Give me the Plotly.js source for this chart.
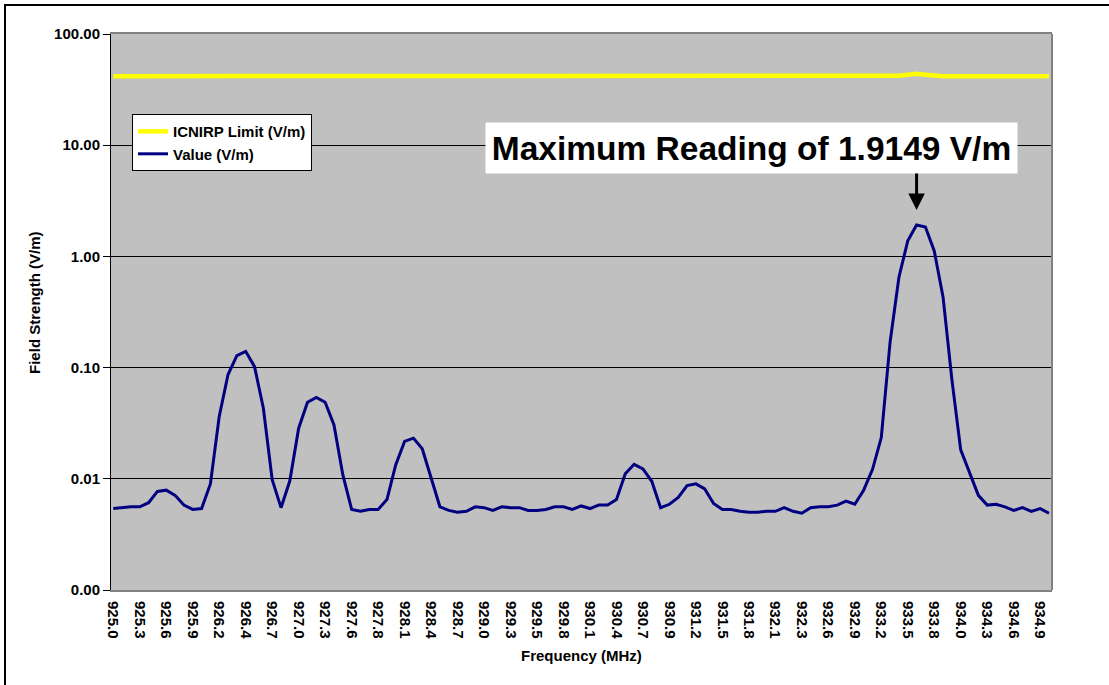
<!DOCTYPE html>
<html>
<head>
<meta charset="utf-8">
<script src="https://cdn.plot.ly/plotly-3.0.1.min.js"></script>
<style>
  html, body { margin: 0; padding: 0; background: #ffffff; }
  #chart { width: 1109px; height: 685px; }
  #frame { position: absolute; left: 4px; top: 4px; width: 1120px; height: 700px;
           border-left: 2.5px solid #000; border-top: 2.5px solid #000; pointer-events: none; box-sizing: border-box; }
</style>
</head>
<body>
<div id="chart"></div>
<div id="frame"></div>
<script>
// Tick labels shown every third measurement point
const tickLabels = ["925.0","925.3","925.6","925.9","926.2","926.4","926.7","927.0","927.3","927.6",
  "927.8","928.1","928.4","928.7","929.0","929.3","929.5","929.8","930.1","930.4",
  "930.7","930.9","931.2","931.5","931.8","932.1","932.3","932.6","932.9","933.2",
  "933.5","933.8","934.0","934.3","934.6","934.9"];

// Measured field strength (V/m), 107 points
const valueVm = [
  0.0054, 0.0055, 0.0056, 0.0056, 0.0061, 0.0077, 0.0079, 0.0071, 0.0058, 0.0053,
  0.0054, 0.0090, 0.0363, 0.0867, 0.128, 0.140, 0.102, 0.0431, 0.0098, 0.0055,
  0.0096, 0.0285, 0.0488, 0.0540, 0.0488, 0.0305, 0.0109, 0.0053, 0.0051, 0.0053,
  0.0053, 0.0065, 0.0134, 0.0217, 0.0232, 0.0186, 0.0101, 0.0056, 0.0052, 0.0050,
  0.0051, 0.0056, 0.0055, 0.0052, 0.0056, 0.0055, 0.0055, 0.0052, 0.0052, 0.0053,
  0.0056, 0.0056, 0.0053, 0.0057, 0.0054, 0.0058, 0.0058, 0.0065, 0.0111, 0.0135,
  0.0123, 0.0095, 0.0055, 0.0059, 0.0068, 0.0087, 0.0090, 0.0081, 0.0060, 0.0053,
  0.0053, 0.0051, 0.0050, 0.0050, 0.0051, 0.0051, 0.0055, 0.0051, 0.0049, 0.0055,
  0.0056, 0.0056, 0.0058, 0.0063, 0.0059, 0.0079, 0.0121, 0.0235, 0.170, 0.650,
  1.38, 1.9149, 1.84, 1.12, 0.43, 0.078, 0.0182, 0.0114, 0.0071, 0.0058,
  0.0059, 0.0056, 0.0052, 0.0055, 0.0051, 0.0054, 0.0049
];

// ICNIRP limit (V/m), 107 points
const limitVm = [
  41.8, 41.8, 41.8, 41.8, 41.8, 41.8, 41.8, 41.8, 41.8, 41.8,
  41.8, 41.8, 41.8, 41.8, 41.8, 41.8, 41.8, 41.8, 41.8, 41.8,
  41.8, 41.8, 41.8, 41.8, 41.8, 41.8, 41.8, 41.8, 41.8, 41.8,
  41.8, 41.8, 41.8, 41.8, 41.8, 41.8, 41.8, 41.8, 41.8, 41.8,
  41.8, 41.8, 41.8, 41.8, 41.8, 41.8, 41.8, 41.8, 41.8, 41.8,
  41.8, 41.8, 41.8, 41.8, 41.8, 41.8, 41.8, 41.8, 41.8, 41.8,
  41.8, 41.8, 41.8, 41.8, 41.8, 41.8, 41.8, 41.8, 41.8, 41.8,
  41.8, 41.8, 41.8, 41.8, 41.8, 41.8, 41.8, 41.8, 41.8, 41.8,
  41.8, 41.8, 41.8, 41.8, 41.8, 41.8, 41.8, 41.8, 41.8, 42.2,
  43.0, 43.9, 43.1, 42.2, 41.8, 41.8, 41.8, 41.8, 41.8, 41.8,
  41.8, 41.8, 41.8, 41.8, 41.8, 41.8, 41.8
];

const yTickVals = [0.001, 0.01, 0.1, 1, 10, 100];
const yTickText = ["0.00", "0.01", "0.10", "1.00", "10.00", "100.00"];

const pointIndex = valueVm.map((_, i) => i);
const tickVals = tickLabels.map((_, k) => k * 3);
const maxIdx = valueVm.indexOf(Math.max(...valueVm));

const FONT = "Liberation Sans, Arial, Helvetica, sans-serif";

const traces = [
  { x: pointIndex, y: limitVm, type: "scatter", mode: "lines", name: "ICNIRP Limit (V/m)",
    line: { color: "#FFFF00", width: 4.5 } },
  { x: pointIndex, y: valueVm, type: "scatter", mode: "lines", name: "Value (V/m)",
    line: { color: "#000080", width: 3 } }
];

const layout = {
  width: 1109, height: 685,
  margin: { l: 111, r: 57, t: 34, b: 95, pad: 0 },
  paper_bgcolor: "#FFFFFF",
  plot_bgcolor: "#C0C0C0",
  font: { family: FONT, size: 15, color: "#000" },
  showlegend: true,
  legend: {
    x: 0.0223, y: 0.856, xanchor: "left", yanchor: "top",
    bgcolor: "#FFFFFF", bordercolor: "#000", borderwidth: 1,
    font: { family: FONT, size: 15, color: "#000", weight: "bold" },
    tracegroupgap: 0, itemwidth: 30
  },
  xaxis: {
    range: [-0.26, 106.34],
    tickmode: "array", tickvals: tickVals, ticktext: tickLabels,
    tickangle: 90, ticks: "", ticklabelstandoff: 6,
    tickfont: { family: FONT, size: 15, color: "#000", weight: "bold" },
    showgrid: false, zeroline: false,
    showline: true, linecolor: "#808080", linewidth: 2, mirror: true
  },
  yaxis: {
    type: "log", range: [-3, 2],
    tickmode: "array", tickvals: yTickVals, ticktext: yTickText,
    ticks: "outside", ticklen: 7, tickcolor: "#000", tickwidth: 1,
    tickfont: { family: FONT, size: 15, color: "#000", weight: "bold" },
    showgrid: true, gridcolor: "#000", gridwidth: 1,
    zeroline: false, showline: true, linecolor: "#000", linewidth: 1
  },
  shapes: [
    { type: "line", xref: "paper", yref: "paper", x0: 1, x1: 1, y0: 0, y1: 1,
      line: { color: "#808080", width: 2 } }
  ],
  annotations: [
    { xref: "paper", yref: "paper", x: 0.5, y: -0.1187, xanchor: "center", yanchor: "middle",
      text: "Frequency (MHz)", showarrow: false,
      font: { family: FONT, size: 15, color: "#000", weight: "bold" } },
    { xref: "paper", yref: "paper", x: -0.0808, y: 0.518, xanchor: "center", yanchor: "middle",
      text: "Field Strength (V/m)", textangle: -90, showarrow: false,
      font: { family: FONT, size: 15, color: "#000", weight: "bold" } },
    { xref: "paper", yref: "paper", x: 0.6807, y: 0.795, xanchor: "center", yanchor: "middle",
      text: "Maximum Reading of " + valueVm[maxIdx].toFixed(4) + " V/m", showarrow: false,
      bgcolor: "#FFFFFF", borderpad: 3, width: 525, height: 44,
      font: { family: FONT, size: 33.5, color: "#000", weight: "bold" } },
    { xref: "x", yref: "y", x: maxIdx, y: 0.417, ax: 0, ay: -38, axref: "pixel", ayref: "pixel",
      text: "", showarrow: true, arrowhead: 2, arrowsize: 1.1, arrowwidth: 3, arrowcolor: "#000", standoff: 0 }
  ]
};

Plotly.newPlot("chart", traces, layout, { displayModeBar: false, staticPlot: true });
</script>
</body>
</html>
